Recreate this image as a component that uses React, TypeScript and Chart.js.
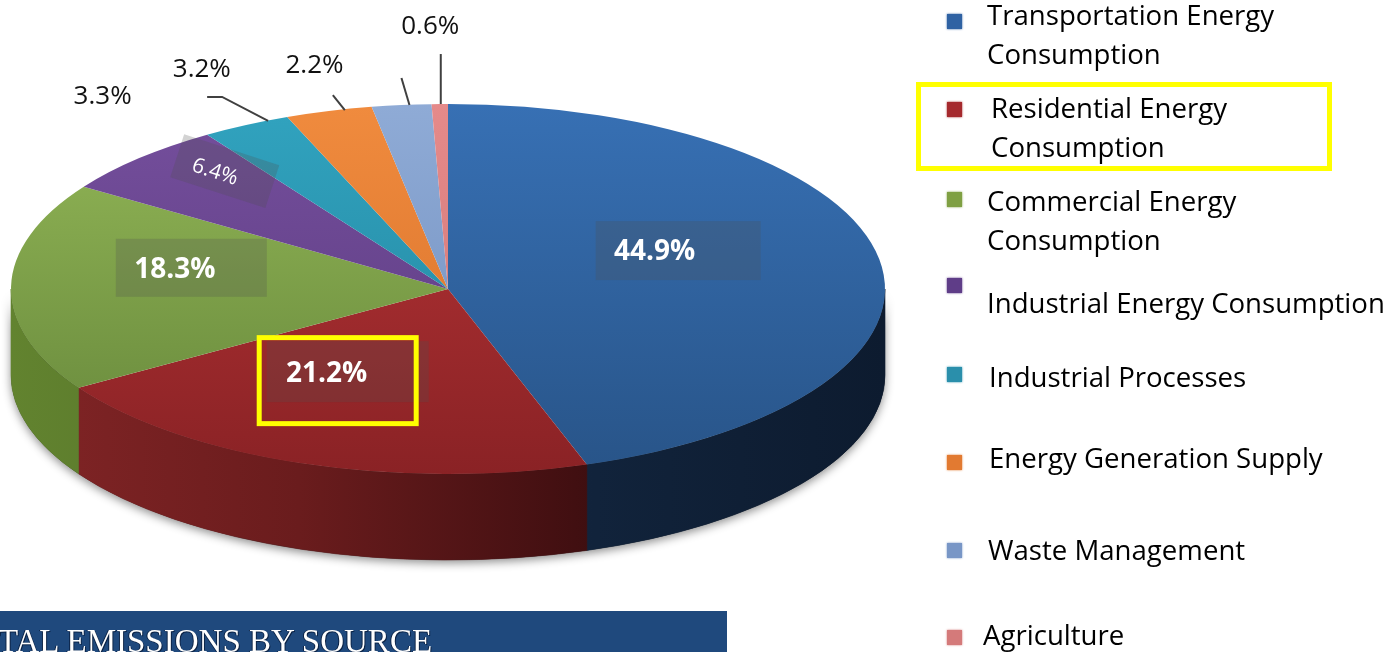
import React, { useEffect, useRef } from "react";
import { Chart, registerables } from "chart.js";

Chart.register(...registerables);

// ---------------- data ----------------
const categories = [
  "Transportation Energy Consumption",
  "Residential Energy Consumption",
  "Commercial Energy Consumption",
  "Industrial Energy Consumption",
  "Industrial Processes",
  "Energy Generation Supply",
  "Waste Management",
  "Agriculture",
];
const legendLines = [
  ["Transportation Energy", "Consumption"],
  ["Residential Energy", "Consumption"],
  ["Commercial Energy", "Consumption"],
  ["Industrial Energy Consumption"],
  ["Industrial Processes"],
  ["Energy Generation Supply"],
  ["Waste Management"],
  ["Agriculture"],
];
const shares = [44.9, 21.2, 18.3, 6.4, 3.3, 3.2, 2.2, 0.6];
const shareLabels = shares.map((v) => v.toFixed(1) + "%");
const bannerTitle = "TAL EMISSIONS BY SOURCE";

// ---------------- styles ----------------
const topLight = ["#3770b4", "#b83537", "#93b757", "#754f9d", "#31a3bf", "#f08b3e", "#8fabd6", "#e58a8a"];
const topDark = ["#285488", "#8a2225", "#65863a", "#5a3a7e", "#22839c", "#d66f29", "#6f8dbd", "#cf7474"];
const markerColors = ["#2f62a3", "#a5292d", "#7fa043", "#5f3d88", "#2a8fab", "#e27a31", "#7896c6", "#d47a7a"];
const sideStops = [
  ["#1c3556", "#15294a", "#11233b", "#0d1b2f"],
  ["#822526", "#6a1c1d", "#3e0e10", "#2a0a0b"],
  ["#62832f", "#54722a", "#3a4f1c", "#2a3a14"],
  ["#4a3068", "#3e2858", "#2e1e42", "#221630"],
  ["#1f6d80", "#1a5c6c", "#134552", "#0e343e"],
  ["#a8541e", "#8e471a", "#6a3514", "#4f280f"],
  ["#56698a", "#4a5a76", "#384558", "#2a3442"],
  ["#9a5656", "#844a4a", "#633838", "#4a2a2a"],
];

// pie geometry (pixels)
const W = 1392;
const H = 652;
const CX = 448;
const CY = 289;
const RX = 437;
const RY = 185;
const DEPTH = 86;
const R0 = 185;

// inner label layout: radius fraction, pixel shift, background box, rotation
const innerLayout: any[] = [
  { f: 0.5, dx: -9, dy: -24, box: [-59, -29, 165, 59], rot: 0, font: "bold 28px 'Open Sans'" },
  { f: 0.5, dx: -48, dy: -4, box: [-60, -31, 162, 61], rot: 0, font: "bold 28px 'Open Sans'", highlight: [-70, -37, 162, 91] },
  { f: 0.6, dx: -11, dy: -20, box: [-59, -29, 151, 58], rot: 0, font: "bold 28px 'Open Sans'" },
  { f: 0.75, dx: -1, dy: -20, box: [-41, -25, 100, 45], rot: 18, font: "21px 'Open Sans'" },
];
// outer label layout: label shift from edge point, leader line points relative to edge point
const outerLayout: any[] = [
  { lx: -143.5, ly: -30, line: [] },
  { lx: -127, ly: -43.5, line: [[22, -4], [-24, -28], [-39, -28]], lineOf: 4 },
  { lx: -87, ly: -41.5, line: [[16, -1], [4, -16]], lineOf: 5 },
  { lx: -9.5, ly: -79.5, line: [[8, 0], [0, -27]], lineOf: 6 },
];
const pinkLine = [[1, 0], [1, -50]];

const LEGEND_X = [987, 991, 987, 987, 989, 989, 988, 983];
const LEGEND_BASELINE = [25, 118, 211, 313, 387, 468, 560, 645];
const MARKER_Y = [22, 110, 200, 286, 375, 463, 551, 638];

function topFill(c: any) {
  const i = c.dataIndex;
  const chart = c.chart;
  const area = chart.chartArea;
  if (!area || i === undefined) return topLight[0];
  const g = chart.ctx.createLinearGradient(0, area.top, 0, area.bottom);
  g.addColorStop(0, topLight[i]);
  g.addColorStop(1, topDark[i]);
  return g;
}

const pie3d = {
  id: "pie3d",
  beforeDatasetsDraw(chart: any) {
    const ctx = chart.ctx as CanvasRenderingContext2D;
    const arcs = chart.getDatasetMeta(0).data as any[];
    const cx = arcs[0].x;
    const cy = arcs[0].y;
    const r = arcs[0].outerRadius;
    // silhouette with soft shadow
    ctx.save();
    ctx.beginPath();
    ctx.ellipse(cx, cy, RX, RY, 0, 0, Math.PI);
    ctx.ellipse(cx, cy + DEPTH, RX, RY, 0, Math.PI, 0, true);
    ctx.closePath();
    ctx.shadowColor = "rgba(0,0,0,0.45)";
    ctx.shadowBlur = 10;
    ctx.shadowOffsetY = 3;
    ctx.fillStyle = "#222";
    ctx.fill();
    ctx.restore();
    // front walls
    arcs.forEach((arc: any, i: number) => {
      const s = Math.max(arc.startAngle, 0);
      const e = Math.min(arc.endAngle, Math.PI);
      if (e <= s) return;
      ctx.save();
      ctx.beginPath();
      ctx.ellipse(cx, cy, RX, RY, 0, s, e);
      ctx.ellipse(cx, cy + DEPTH, RX, RY, 0, e, s, true);
      ctx.closePath();
      const g = ctx.createLinearGradient(cx - RX, 0, cx + RX, 0);
      const st = sideStops[i];
      g.addColorStop(0, st[0]);
      g.addColorStop(0.33, st[1]);
      g.addColorStop(0.67, st[2]);
      g.addColorStop(1, st[3]);
      ctx.fillStyle = g;
      ctx.fill();
      ctx.strokeStyle = g;
      ctx.lineWidth = 0.6;
      ctx.stroke();
      ctx.restore();
    });
    // squash the top face into an ellipse
    ctx.save();
    ctx.translate(cx, cy);
    ctx.scale(RX / r, RY / r);
    ctx.translate(-cx, -cy);
  },
  afterDatasetsDraw(chart: any) {
    const ctx = chart.ctx as CanvasRenderingContext2D;
    ctx.restore();
    const arcs = chart.getDatasetMeta(0).data as any[];
    const cx = arcs[0].x;
    const cy = arcs[0].y;
    const pt = (i: number, f: number) => {
      const m = (arcs[i].startAngle + arcs[i].endAngle) / 2;
      return [cx + f * RX * Math.cos(m), cy + f * RY * Math.sin(m)];
    };
    // inner labels
    innerLayout.forEach((L, i) => {
      const [px, py] = pt(i, L.f);
      const tx = px + L.dx;
      const ty = py + L.dy;
      ctx.save();
      ctx.translate(tx, ty);
      ctx.rotate((L.rot * Math.PI) / 180);
      ctx.fillStyle = "rgba(80,80,80,0.25)";
      ctx.fillRect(L.box[0], L.box[1], L.box[2], L.box[3]);
      ctx.font = L.font;
      ctx.fillStyle = "#ffffff";
      ctx.textAlign = "center";
      ctx.textBaseline = "alphabetic";
      const size = parseFloat(L.font.match(/(\d+)px/)[1]);
      ctx.fillText(shareLabels[i], 0, size * 0.357);
      ctx.restore();
      if (L.highlight) {
        const h = L.highlight;
        ctx.save();
        ctx.strokeStyle = "#ffff00";
        ctx.lineWidth = 5;
        ctx.strokeRect(tx + h[0] + 2.5, ty + h[1] + 2.5, h[2] - 5, h[3] - 5);
        ctx.restore();
      }
    });
    // leader lines
    ctx.save();
    ctx.strokeStyle = "#404040";
    ctx.lineWidth = 2;
    const drawLine = (i: number, pts: number[][]) => {
      if (!pts.length) return;
      const [ax, ay] = pt(i, 1);
      ctx.beginPath();
      pts.forEach((p, k) => (k === 0 ? ctx.moveTo(ax + p[0], ay + p[1]) : ctx.lineTo(ax + p[0], ay + p[1])));
      ctx.stroke();
    };
    outerLayout.forEach((L) => {
      if (L.lineOf !== undefined) drawLine(L.lineOf, L.line);
    });
    drawLine(7, pinkLine);
    ctx.restore();
    // outer labels
    ctx.save();
    ctx.font = "26px 'Open Sans'";
    ctx.fillStyle = "#111111";
    ctx.textAlign = "center";
    ctx.textBaseline = "alphabetic";
    outerLayout.forEach((L, k) => {
      const i = 4 + k;
      const [ax, ay] = pt(i, 1);
      ctx.fillText(shareLabels[i], ax + L.lx, ay + L.ly + 26 * 0.357);
    });
    ctx.restore();
  },
};

export default function App() {
  const canvasRef = useRef<HTMLCanvasElement>(null);
  useEffect(() => {
    const canvas = canvasRef.current!;
    const chart = new Chart(canvas, {
      type: "pie",
      data: {
        labels: categories,
        datasets: [
          {
            data: shares,
            backgroundColor: topFill as any,
            borderWidth: 0,
            hoverOffset: 0,
            clip: false as any,
          },
        ],
      },
      options: {
        responsive: false,
        animation: false,
        events: [],
        layout: {
          padding: { left: CX - R0, right: W - CX - R0, top: CY - R0, bottom: H - CY - R0 },
        },
        plugins: { legend: { display: false }, tooltip: { enabled: false }, title: { display: false } },
      },
      plugins: [pie3d as any],
    });
    return () => chart.destroy();
  }, []);

  return (
    <div
      style={{
        position: "absolute",
        left: 0,
        top: 0,
        width: W,
        height: H,
        overflow: "hidden",
        background: "#ffffff",
        fontFamily: "'Open Sans', sans-serif",
      }}
    >
      <canvas ref={canvasRef} width={W} height={H} style={{ position: "absolute", left: 0, top: 0 }} />
      {categories.map((c, i) => (
        <React.Fragment key={c}>
          <div
            style={{
              position: "absolute",
              left: 947,
              top: MARKER_Y[i] - 8,
              width: 15,
              height: 15,
              background: markerColors[i],
              boxShadow: `0 0 2px ${markerColors[i]}`,
            }}
          />
          <div
            style={{
              position: "absolute",
              left: LEGEND_X[i],
              top: LEGEND_BASELINE[i] - 30,
              fontSize: 27.6,
              lineHeight: "39px",
              color: "#000",
              whiteSpace: "nowrap",
            }}
          >
            {legendLines[i].map((t) => (
              <div key={t}>{t}</div>
            ))}
          </div>
        </React.Fragment>
      ))}
      <div
        style={{
          position: "absolute",
          left: 916,
          top: 82,
          width: 416,
          height: 89,
          boxSizing: "border-box",
          border: "5px solid #ffff00",
        }}
      />
      <div
        style={{
          position: "absolute",
          left: 0,
          top: 611,
          width: 727,
          height: 41,
          background: "#1f497d",
          overflow: "hidden",
        }}
      >
        <div
          style={{
            position: "absolute",
            left: -2,
            top: 14,
            fontFamily: "'Liberation Serif', serif",
            fontSize: 33,
            lineHeight: "33px",
            color: "#ffffff",
            whiteSpace: "nowrap",
            textShadow: "1px 1px 0 #0b2244, -1px 0 0 #0b2244",
          }}
        >
          {bannerTitle}
        </div>
      </div>
    </div>
  );
}
